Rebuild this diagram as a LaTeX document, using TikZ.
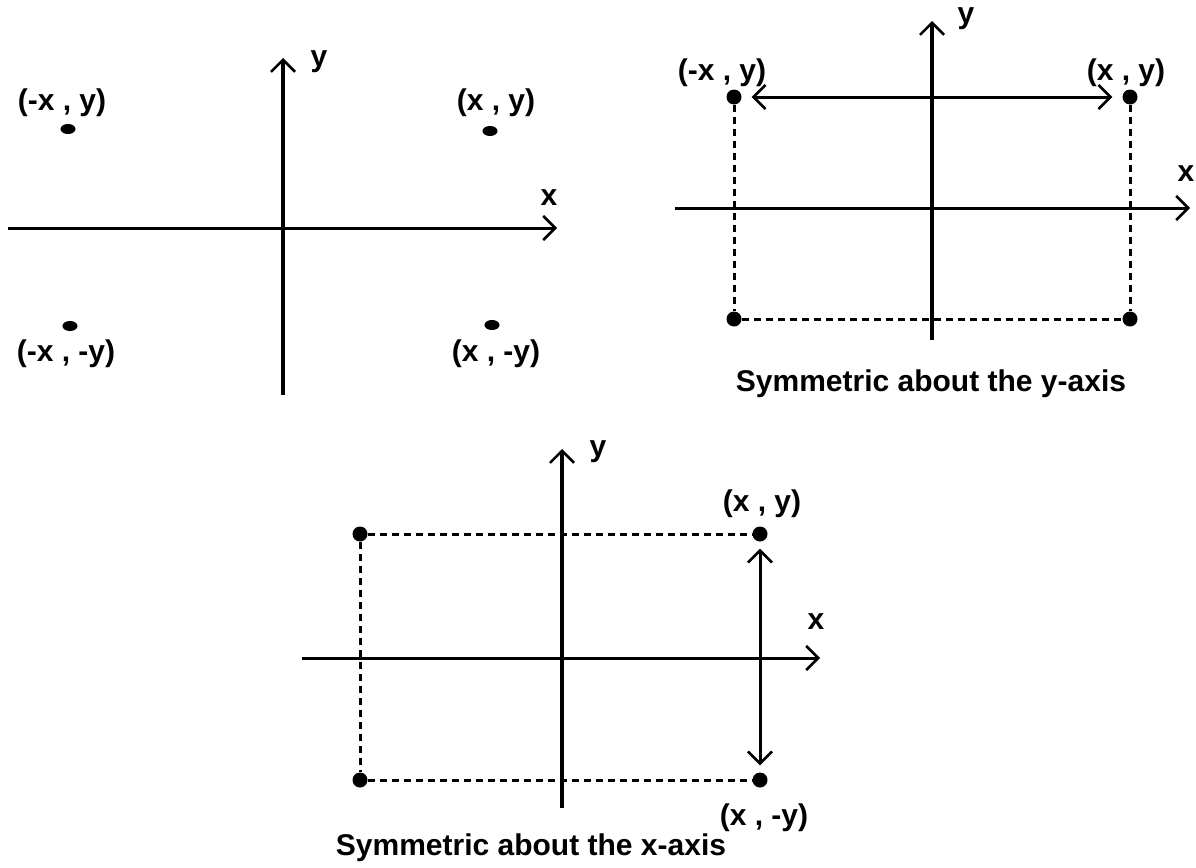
\documentclass[tikz,border=0pt]{standalone}
\usepackage{fontspec}
\setmainfont{Liberation Sans}
\usetikzlibrary{arrows.meta,shapes.geometric}
\begin{document}
\begin{tikzpicture}[x=1pt,y=-1pt,
  vaxis/.style={line width=3.2pt,-{Straight Barb[length=12pt,width=24pt,line width=2.6pt]}},
  haxis/.style={line width=3pt,-{Straight Barb[length=12pt,width=24pt,line width=2.6pt]}},
  dbl/.style={line width=3pt,{Straight Barb[length=12pt,width=24pt,line width=2.6pt]}-{Straight Barb[length=12pt,width=24pt,line width=2.6pt]}},
  dashln/.style={line width=3pt,dash pattern=on 7pt off 5pt},
  lbl/.style={font=\bfseries\fontsize{30}{32}\selectfont,inner sep=0pt},
  dotf/.style={circle,fill=black,minimum size=15pt,inner sep=0pt},
  dots/.style={ellipse,draw=black,fill=black,line width=2pt,minimum width=13pt,minimum height=8pt,inner sep=0pt}]
\useasboundingbox (0,0) rectangle (1196,867);
% ---- panel 1
\coordinate (a1s) at (283,395); \coordinate (a1n) at (283,58);
\coordinate (a1w) at (8,228); \coordinate (a1e) at (557,228);
\draw[vaxis] (a1s) -- (a1n);
\draw[haxis] (a1w) -- (a1e);
\node[lbl] (a1x) at (549,198) {x};
\node[lbl] (a1y) at (319,62) {y};
\node[lbl] (p1a) at (62,103) {(-x , y)};
\node[lbl] (p1b) at (496,103) {(x , y)};
\node[lbl] (p1c) at (66,354) {(-x , -y)};
\node[lbl] (p1d) at (496,354) {(x , -y)};
\node[dots] (d1a) at (68,129) {};
\node[dots] (d1b) at (490,131) {};
\node[dots] (d1c) at (70,326) {};
\node[dots] (d1d) at (492,325) {};
% ---- panel 2
\coordinate (a2s) at (932,340); \coordinate (a2n) at (932,21);
\coordinate (a2w) at (675,208); \coordinate (a2e) at (1190,208);
\draw[vaxis] (a2s) -- (a2n);
\draw[haxis] (a2w) -- (a2e);
\node[lbl] (a2x) at (1186,174) {x};
\node[lbl] (a2y) at (966,19) {y};
\node[dotf] (q1) at (734,97) {};
\node[dotf] (q2) at (1130,97) {};
\node[dotf] (q3) at (734,319) {};
\node[dotf] (q4) at (1130,319) {};
\draw[dashln] (q1) -- (q3);
\draw[dashln] (q2) -- (q4);
\draw[dashln] (q3) -- (q4);
\draw[dbl] ([xshift=10pt]q1.east) -- ([xshift=-10pt]q2.west);
\node[lbl] (q1l) at (722,73) {(-x , y)};
\node[lbl] (q2l) at (1126,73) {(x , y)};
\node[lbl] (cap2) at (931,384) {Symmetric about the y-axis};
% ---- panel 3
\coordinate (a3s) at (562,808); \coordinate (a3n) at (562,449);
\coordinate (a3w) at (302,658); \coordinate (a3e) at (820,658);
\draw[vaxis] (a3s) -- (a3n);
\draw[haxis] (a3w) -- (a3e);
\node[lbl] (a3x) at (816,622) {x};
\node[lbl] (a3y) at (598,452) {y};
\node[dotf] (r1) at (360,534) {};
\node[dotf] (r2) at (760,534) {};
\node[dotf] (r3) at (360,780) {};
\node[dotf] (r4) at (760,780) {};
\draw[dashln] (r1) -- (r2);
\draw[dashln] (r3) -- (r4);
\draw[dashln] (r1) -- (r3);
\draw[dbl] ([yshift=-7pt]r2.south) -- ([yshift=7pt]r4.north);
\node[lbl] (r2l) at (762,504) {(x , y)};
\node[lbl] (r4l) at (764,818) {(x , -y)};
\node[lbl] (cap3) at (531,848) {Symmetric about the x-axis};
\end{tikzpicture}
\end{document}
